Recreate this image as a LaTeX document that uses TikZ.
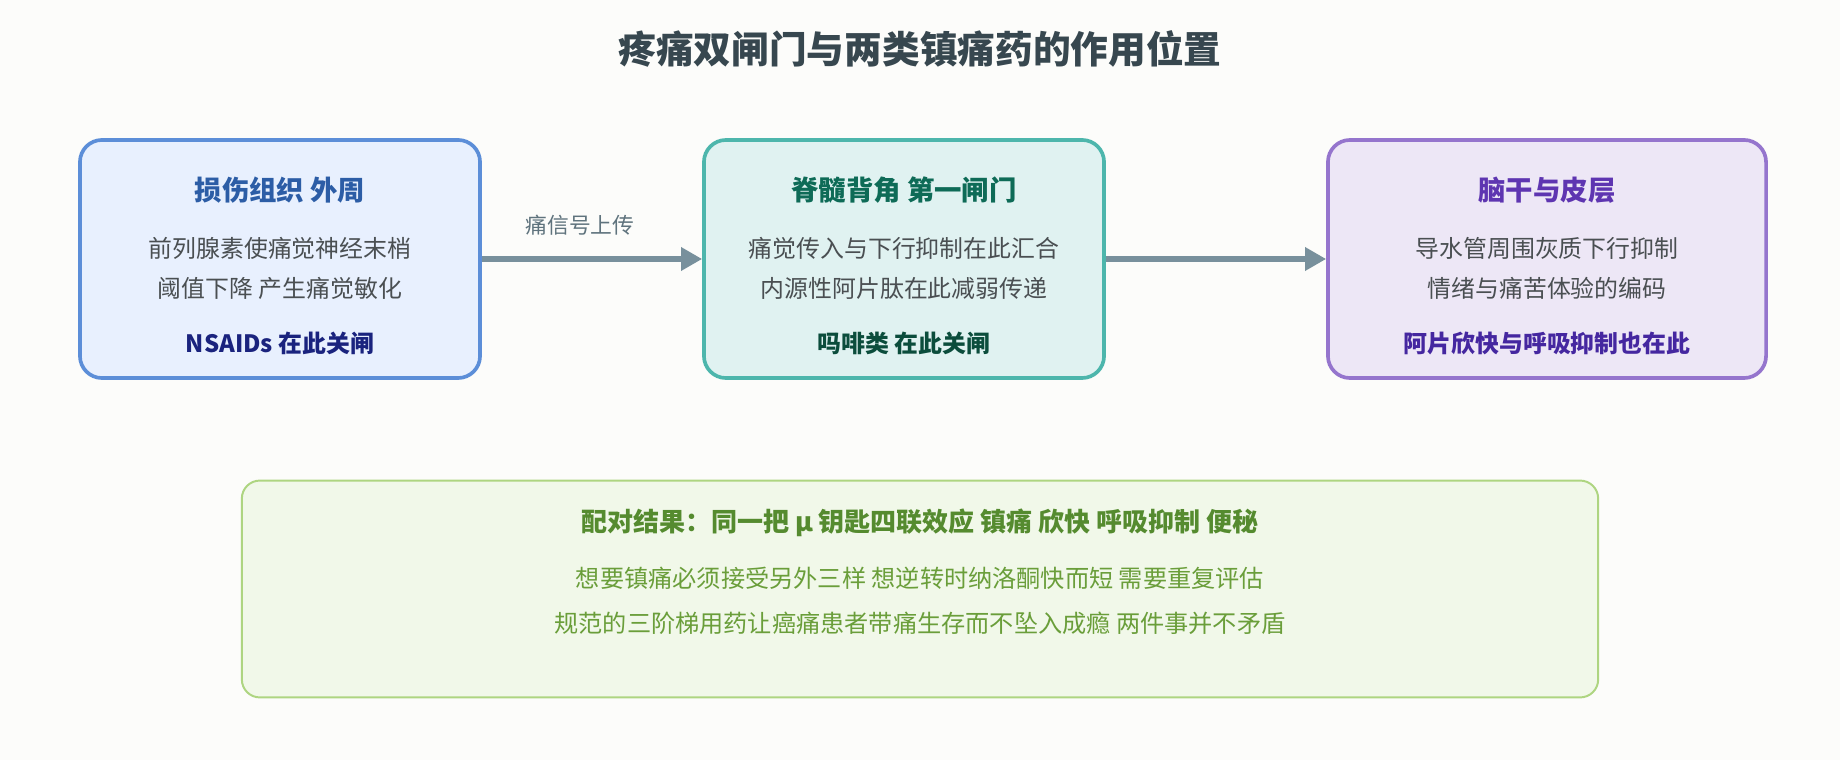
\documentclass[tikz,border=0pt]{standalone}
\usepackage{fontspec}
\setmainfont{Noto Sans CJK SC}
\usepackage{tikz}
\definecolor{paper}{HTML}{FCFCFA}
\definecolor{titlegray}{HTML}{37474F}
\definecolor{bodygray}{HTML}{4A4F52}
\definecolor{arrowgray}{HTML}{78909C}
\definecolor{labelgray}{HTML}{5F737D}
\definecolor{periFill}{HTML}{E8F0FE}
\definecolor{periLine}{HTML}{5C8ED8}
\definecolor{periHead}{HTML}{2C5DA6}
\definecolor{periGate}{HTML}{1A237E}
\definecolor{spineFill}{HTML}{E0F2F1}
\definecolor{spineLine}{HTML}{4DB6AC}
\definecolor{spineHead}{HTML}{0E6B57}
\definecolor{spineGate}{HTML}{0B4D3C}
\definecolor{brainFill}{HTML}{EDE7F6}
\definecolor{brainLine}{HTML}{9575CD}
\definecolor{brainHead}{HTML}{5E35B1}
\definecolor{brainGate}{HTML}{4527A0}
\definecolor{pairFill}{HTML}{F1F8E9}
\definecolor{pairLine}{HTML}{AED581}
\definecolor{pairHead}{HTML}{558B2F}
\definecolor{pairText}{HTML}{6A9E3A}
\usetikzlibrary{arrows.meta}
\pgfdeclarelayer{edgelayer}
\pgfdeclarelayer{nodelayer}
\pgfsetlayers{edgelayer,nodelayer,main}
\tikzstyle{stage}=[rectangle,rounded corners=0.55cm,line width=2.6pt,minimum width=10cm,minimum height=5.95cm]
\tikzstyle{head}=[font=\fontsize{19.5pt}{24pt}\selectfont\bfseries]
\tikzstyle{body}=[font=\fontsize{17pt}{20pt}\selectfont,text=bodygray]
\tikzstyle{gate}=[font=\fontsize{17pt}{20pt}\selectfont\bfseries]
\tikzstyle{flow}=[-{Triangle[length=15pt,width=16pt]},line width=3.6pt,draw=arrowgray]

\begin{document}
\begin{tikzpicture}[x=0.025cm,y=-0.025cm]
        \begin{pgfonlayer}{edgelayer}
            \fill [paper] (0, 0) rectangle (1840, 760);
            \node [style = stage, fill=periFill, draw=periLine] (peri) at (280, 259) {};
            \node [style = stage, fill=spineFill, draw=spineLine] (spine) at (904, 259) {};
            \node [style = stage, fill=brainFill, draw=brainLine, minimum width=10.95cm] (brain) at (1547, 259) {};
            \node [rectangle, rounded corners=0.45cm, line width=1.4pt, fill=pairFill, draw=pairLine, minimum width=33.9cm, minimum height=5.42cm] (pair) at (920, 589) {};
        \end{pgfonlayer}

        \begin{pgfonlayer}{nodelayer}
            \node [font=\fontsize{26.8pt}{31pt}\selectfont\bfseries, text=titlegray] (title) at (920, 49) {疼痛双闸门与两类镇痛药的作用位置};

            \node [style = head, text=periHead] (periT) at (280, 190) {损伤组织 外周};
            \node [style = body] (periA) at (280, 248) {前列腺素使痛觉神经末梢};
            \node [style = body] (periB) at (280, 288) {阈值下降 产生痛觉敏化};
            \node [style = gate, text=periGate] (periG) at (280, 343) {NSAIDs 在此关闸};

            \node [style = head, text=spineHead] (spineT) at (904, 190) {脊髓背角 第一闸门};
            \node [style = body] (spineA) at (904, 248) {痛觉传入与下行抑制在此汇合};
            \node [style = body] (spineB) at (904, 288) {内源性阿片肽在此减弱传递};
            \node [style = gate, text=spineGate] (spineG) at (904, 343) {吗啡类 在此关闸};

            \node [style = head, text=brainHead] (brainT) at (1547, 190) {脑干与皮层};
            \node [style = body] (brainA) at (1547, 248) {导水管周围灰质下行抑制};
            \node [style = body] (brainB) at (1547, 288) {情绪与痛苦体验的编码};
            \node [style = gate, text=brainGate] (brainG) at (1547, 343) {阿片欣快与呼吸抑制也在此};

            \node [font=\fontsize{15.5pt}{18pt}\selectfont, text=labelgray] (signal) at (580, 225) {痛信号上传};

            \node [font=\fontsize{18.5pt}{22pt}\selectfont\bfseries, text=pairHead] (pairT) at (920, 523) {配对结果：同一把 μ 钥匙四联效应 镇痛 欣快 呼吸抑制 便秘};
            \node [font=\fontsize{17.2pt}{20pt}\selectfont, text=pairText] (pairA) at (920, 578) {想要镇痛必须接受另外三样 想逆转时纳洛酮快而短 需要重复评估};
            \node [font=\fontsize{17.2pt}{20pt}\selectfont, text=pairText] (pairB) at (920, 623) {规范的三阶梯用药让癌痛患者带痛生存而不坠入成瘾 两件事并不矛盾};
        \end{pgfonlayer}

        \begin{pgfonlayer}{edgelayer}
            \draw [style = flow] (peri.east) to (spine.west);
            \draw [style = flow] (spine.east) to (brain.west);
        \end{pgfonlayer}
    \end{tikzpicture}
\end{document}
